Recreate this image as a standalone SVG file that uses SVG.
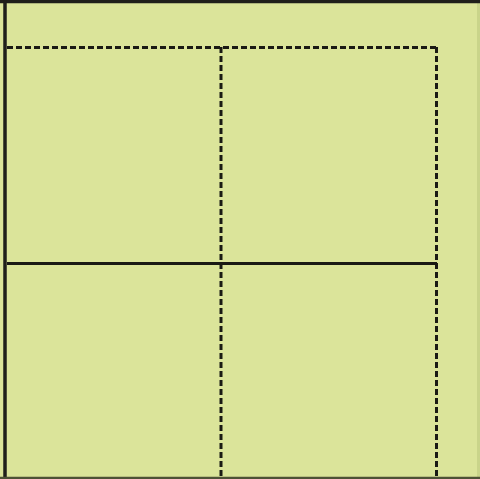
<svg xmlns="http://www.w3.org/2000/svg" width="480" height="479" viewBox="0 0 480 479">
<style>
.d{stroke:#1a1a14;stroke-width:3;stroke-dasharray:6 3;fill:none}
.s{stroke:#1a1a14;stroke-width:3;fill:none}
</style>
<rect x="0" y="0" width="480" height="479" fill="#dbe49a"/>
<rect x="477" y="0" width="3" height="479" fill="#c9d48a"/>
<g id="border">
<line x1="0" y1="1.5" x2="480" y2="1.5" stroke="#1f1f1a" stroke-width="3.5"/>
<line x1="5" y1="0" x2="5" y2="479" stroke="#1f1f1a" stroke-width="3.5"/>
<line x1="0" y1="478" x2="480" y2="478" stroke="#4e5236" stroke-width="2.5"/>
</g>
<g id="connectors">
<line class="d" x1="7" y1="47.5" x2="437" y2="47.5"/>
<line class="d" x1="436.5" y1="47" x2="436.5" y2="477"/>
<line class="d" x1="221" y1="47" x2="221" y2="477"/>
<line class="s" x1="7" y1="263.5" x2="437" y2="263.5"/>
</g>
</svg>
